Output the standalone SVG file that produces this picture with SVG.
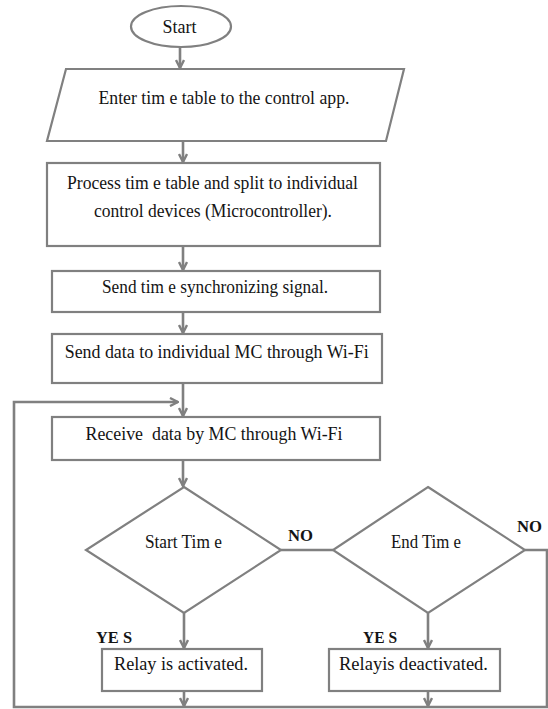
<svg xmlns="http://www.w3.org/2000/svg" width="548" height="709" viewBox="0 0 548 709">
<style>
.shape{fill:#ffffff;stroke:#808080;stroke-width:2.2}
.conn{fill:none;stroke:#808080;stroke-width:2.6}
.t{font-family:'Liberation Serif','Times New Roman',serif;font-size:18px;fill:#141414;text-anchor:middle}
.lbl{font-family:'Liberation Serif','Times New Roman',serif;font-weight:bold;font-size:16px;fill:#141414;text-anchor:middle}
</style>
<defs>
<marker id="arr" viewBox="0 0 10 10" refX="9" refY="5" markerWidth="10" markerHeight="10" markerUnits="userSpaceOnUse" orient="auto">
<path d="M1,1 L9,5 L1,9" fill="none" stroke="#808080" stroke-width="2.4"/>
</marker>
</defs>
<rect width="548" height="709" fill="#ffffff"/>
<g id="connectors">
<line class="conn" x1="180" y1="47" x2="180" y2="68" marker-end="url(#arr)"/>
<line class="conn" x1="183" y1="141" x2="183" y2="162" marker-end="url(#arr)"/>
<line class="conn" x1="183" y1="246" x2="183" y2="270" marker-end="url(#arr)"/>
<line class="conn" x1="183" y1="312" x2="183" y2="333" marker-end="url(#arr)"/>
<line class="conn" x1="183" y1="383" x2="183" y2="416" marker-end="url(#arr)"/>
<line class="conn" x1="183" y1="460" x2="183" y2="486" marker-end="url(#arr)"/>
<line class="conn" x1="184" y1="613" x2="184" y2="648" marker-end="url(#arr)"/>
<line class="conn" x1="428" y1="613" x2="428" y2="648" marker-end="url(#arr)"/>
<line class="conn" x1="281" y1="550" x2="333" y2="550"/>
<polyline class="conn" points="525,550 547,550 547,707 14,707 14,402 178,402" marker-end="url(#arr)"/>
<line class="conn" x1="184" y1="691" x2="184" y2="706" marker-end="url(#arr)"/>
<line class="conn" x1="428" y1="691" x2="428" y2="706" marker-end="url(#arr)"/>
</g>
<g id="start">
<ellipse class="shape" cx="181" cy="26.5" rx="50" ry="20.5"/>
<text class="t" x="179.5" y="33" textLength="34" lengthAdjust="spacingAndGlyphs">Start</text>
</g>
<g id="enter">
<polygon class="shape" points="66,69 404,69 386,141 47,141"/>
<text class="t" x="224" y="104" textLength="251" lengthAdjust="spacingAndGlyphs">Enter tim e table to the control app.</text>
</g>
<g id="process">
<rect class="shape" x="47" y="163" width="333" height="83"/>
<text class="t" x="212.5" y="189" textLength="291" lengthAdjust="spacingAndGlyphs">Process tim e table and split to individual</text>
<text class="t" x="213" y="217" textLength="238" lengthAdjust="spacingAndGlyphs">control devices (Microcontroller).</text>
</g>
<g id="sync">
<rect class="shape" x="52" y="271" width="328" height="41"/>
<text class="t" x="215" y="293" textLength="226" lengthAdjust="spacingAndGlyphs">Send tim e synchronizing signal.</text>
</g>
<g id="senddata">
<rect class="shape" x="52" y="334" width="330" height="49"/>
<text class="t" x="216.7" y="358" textLength="304" lengthAdjust="spacingAndGlyphs">Send data to individual MC through Wi-Fi</text>
</g>
<g id="receive">
<rect class="shape" x="52" y="417" width="328" height="43"/>
<text class="t" x="214" y="440" textLength="257" lengthAdjust="spacingAndGlyphs" xml:space="preserve">Receive  data by MC through Wi-Fi</text>
</g>
<g id="starttime">
<polygon class="shape" points="184,487 281,550 184,613 86,550"/>
<text class="t" x="183.4" y="548" textLength="77" lengthAdjust="spacingAndGlyphs">Start Tim e</text>
</g>
<g id="endtime">
<polygon class="shape" points="428,487 525,550 428,613 333,550"/>
<text class="t" x="426" y="548" textLength="70" lengthAdjust="spacingAndGlyphs">End Tim e</text>
</g>
<g id="activated">
<rect class="shape" x="102" y="649" width="160" height="42"/>
<text class="t" x="181" y="670" textLength="134" lengthAdjust="spacingAndGlyphs">Relay is activated.</text>
</g>
<g id="deactivated">
<rect class="shape" x="329" y="649" width="171" height="42"/>
<text class="t" x="413.5" y="670" textLength="149" lengthAdjust="spacingAndGlyphs">Relayis deactivated.</text>
</g>
<g id="labels">
<text class="lbl" x="300.5" y="541" textLength="25" lengthAdjust="spacingAndGlyphs">NO</text>
<text class="lbl" x="529.5" y="532" textLength="25" lengthAdjust="spacingAndGlyphs">NO</text>
<text class="lbl" x="114" y="643" textLength="36" lengthAdjust="spacingAndGlyphs">YE S</text>
<text class="lbl" x="380" y="643" textLength="34" lengthAdjust="spacingAndGlyphs">YE S</text>
</g>
</svg>
